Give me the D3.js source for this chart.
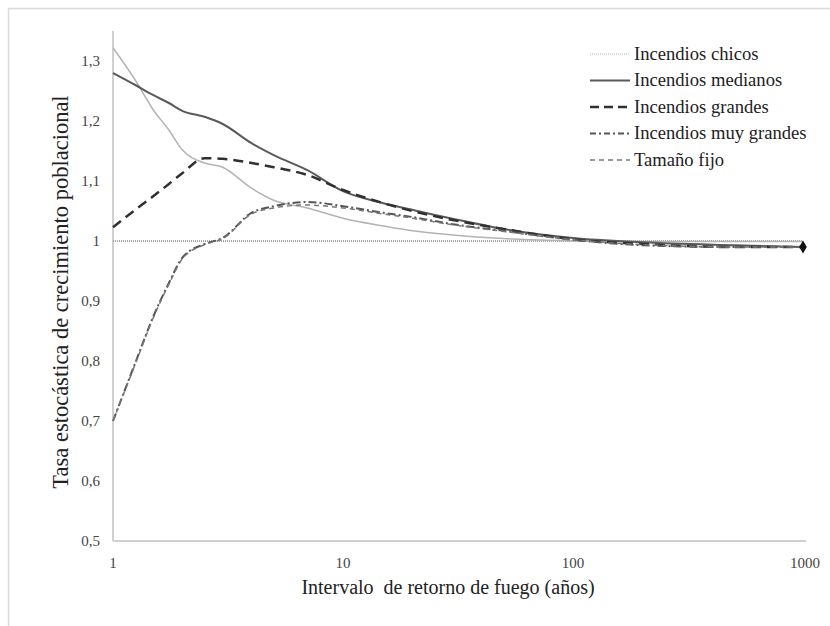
<!DOCTYPE html>
<html>
<head>
<meta charset="utf-8">
<script src="https://cdn.jsdelivr.net/npm/d3@7"></script>
<style>
  body { margin: 0; background: #fff; }
</style>
</head>
<body>
<svg id="chart" width="830" height="626" font-family="'Liberation Serif', 'DejaVu Serif', serif"></svg>
<script>
// fire return interval (years)
const intervals = [1, 1.25, 1.5, 1.75, 2, 2.5, 3, 4, 5, 7, 10, 15, 20, 30, 50, 100, 200, 500, 1000];

const chicos      = [1.322, 1.268, 1.218, 1.185, 1.152, 1.130, 1.123, 1.088, 1.068, 1.055, 1.038, 1.025, 1.017, 1.010, 1.004, 1.000, 0.999, 0.999, 0.999];
const medianos    = [1.280, 1.260, 1.243, 1.230, 1.217, 1.207, 1.195, 1.163, 1.143, 1.118, 1.083, 1.063, 1.052, 1.037, 1.020, 1.005, 0.998, 0.993, 0.990];
const grandes     = [1.023, 1.052, 1.075, 1.095, 1.113, 1.138, 1.137, 1.130, 1.123, 1.110, 1.085, 1.063, 1.050, 1.035, 1.020, 1.003, 0.995, 0.990, 0.990];
const muyGrandes  = [0.700, 0.797, 0.875, 0.930, 0.972, 0.995, 1.005, 1.047, 1.058, 1.065, 1.058, 1.047, 1.040, 1.028, 1.017, 1.002, 0.993, 0.990, 0.990];
const tamanoFijo  = [0.700, 0.795, 0.873, 0.928, 0.970, 0.994, 1.004, 1.045, 1.055, 1.060, 1.055, 1.045, 1.038, 1.027, 1.016, 1.002, 0.994, 0.990, 0.990];

const seriesNames = ["Incendios chicos", "Incendios medianos", "Incendios grandes", "Incendios muy grandes", "Tamaño fijo"];

const xTicks = [1, 10, 100, 1000];
const yTicks = [0.5, 0.6, 0.7, 0.8, 0.9, 1, 1.1, 1.2, 1.3];

const svg = d3.select("#chart");

// outer frame of the figure
svg.append("path")
    .attr("d", "M8.5,626 V8.5 H830")
    .attr("fill", "none")
    .attr("stroke", "#d9d9d9")
    .attr("stroke-width", 1.5);

const x = d3.scaleLog().domain([1, 1000]).range([113, 803]);
const y = d3.scaleLinear().domain([0.5, 1.35]).range([541, 31]);

// axes lines
svg.append("line")
    .attr("x1", 113).attr("x2", 113)
    .attr("y1", y(1.35)).attr("y2", y(0.5))
    .attr("stroke", "#d0d0d0").attr("stroke-width", 2);
svg.append("line")
    .attr("x1", 113).attr("x2", 806)
    .attr("y1", y(0.5)).attr("y2", y(0.5))
    .attr("stroke", "#d0d0d0").attr("stroke-width", 2);

// tick labels
const fmt = d => d3.format("")(+d.toFixed(1)).replace(".", ",");
svg.append("g").selectAll("text")
    .data(yTicks).join("text")
    .attr("x", 100)
    .attr("y", d => y(d) + 5)
    .attr("text-anchor", "end")
    .attr("font-size", 15)
    .attr("fill", "#444")
    .text(fmt);

svg.append("g").selectAll("text")
    .data(xTicks).join("text")
    .attr("x", d => x(d) + (d == 1000 ? 2 : 0))
    .attr("y", 568)
    .attr("text-anchor", "middle")
    .attr("font-size", 15)
    .attr("fill", "#444")
    .text(d => d);

// axis titles
svg.append("text")
    .attr("transform", "translate(68,292) rotate(-90)")
    .attr("text-anchor", "middle")
    .attr("font-size", 22.5)
    .attr("fill", "#222")
    .text("Tasa estocástica de crecimiento poblacional");

svg.append("text")
    .attr("x", 448).attr("y", 594)
    .attr("text-anchor", "middle")
    .attr("font-size", 20)
    .attr("fill", "#222")
    .attr("xml:space", "preserve")
    .style("white-space", "pre")
    .text("Intervalo  de retorno de fuego (años)");

// reference line at 1
svg.append("line")
    .attr("x1", x(1)).attr("x2", x(1000))
    .attr("y1", y(1)).attr("y2", y(1))
    .attr("stroke", "#888").attr("stroke-width", 1.5)
    .attr("stroke-dasharray", "1,1");

const styles = [
    { values: chicos,     stroke: "#b3b3b3", width: 1.5, dash: null },
    { values: medianos,   stroke: "#5a5a5a", width: 2,   dash: null },
    { values: grandes,    stroke: "#303030", width: 2.5, dash: "10,6" },
    { values: muyGrandes, stroke: "#555",    width: 2,   dash: "8,3,2,3" },
    { values: tamanoFijo, stroke: "#777",    width: 1.5, dash: "5,4" }
];

const line = d3.line()
    .x(d => x(d[0]))
    .y(d => y(d[1]))
    .curve(d3.curveMonotoneX);

svg.append("g").selectAll("path")
    .data(styles).join("path")
    .attr("d", s => line(intervals.map((v, i) => [v, s.values[i]])))
    .attr("fill", "none")
    .attr("stroke", s => s.stroke)
    .attr("stroke-width", s => s.width)
    .attr("stroke-dasharray", s => s.dash);

// end marker
svg.append("path")
    .attr("d", d3.symbol().type(d3.symbolDiamond).size(50)())
    .attr("transform", `translate(${x(1000)},${y(grandes[grandes.length - 1])})`)
    .attr("fill", "#111");

// legend
const legendDash = [null, null, "9,5", "6,3,2,3", "5,4"];
const legendWidth = [1, 2, 2.5, 2, 1.5];
const legend = svg.append("g").selectAll("g")
    .data(seriesNames).join("g")
    .attr("transform", (d, i) => `translate(590,${54 + i * 26.5})`);
legend.append("line")
    .attr("x1", 0).attr("x2", 40)
    .attr("stroke", (d, i) => styles[i].stroke)
    .attr("stroke-width", (d, i) => legendWidth[i])
    .attr("stroke-dasharray", (d, i) => i == 0 ? "1,1" : legendDash[i]);
legend.append("text")
    .attr("x", 44).attr("y", 5.5)
    .attr("font-size", 18.6)
    .attr("fill", "#222")
    .text(d => d);
</script>
</body>
</html>
